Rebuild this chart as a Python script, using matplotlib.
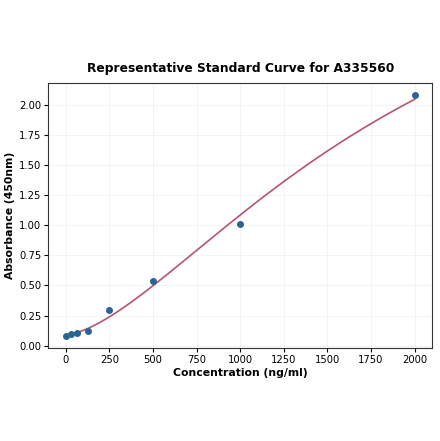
import matplotlib
matplotlib.use('Agg')
import matplotlib.pyplot as plt
import numpy as np

# standard curve points
conc = np.array([0, 31.25, 62.5, 125, 250, 500, 1000, 2000])
absorb = np.array([0.078, 0.097, 0.108, 0.119, 0.30, 0.539, 1.014, 2.081])

# 4PL fit parameters (bottom, slope, ec50, top), estimated from the drawn curve
fit_bottom = 0.09
fit_slope = 1.55
fit_ec50 = 2000.0
fit_top = 4.0


def four_pl(x):
    return fit_top + (fit_bottom - fit_top) / (1 + (x / fit_ec50) ** fit_slope)


x_fit = np.linspace(conc.min(), conc.max(), 400)
y_fit = four_pl(x_fit)

fig, ax = plt.subplots(figsize=(4.4, 4.41), dpi=100)
ax.plot(x_fit, y_fit, color='#b85470', lw=1.2, zorder=2)
ax.scatter(conc, absorb, s=16, color='#2a6496', zorder=3)

ax.set_title('Representative Standard Curve for A335560', fontsize=8.8, fontweight='bold', pad=8)
ax.set_xlabel('Concentration (ng/ml)', fontsize=7.8, fontweight='bold', labelpad=2)
ax.set_ylabel('Absorbance (450nm)', fontsize=7.8, fontweight='bold', labelpad=3)
ax.set_xticks(np.arange(0, 2001, 250))
ax.set_yticks(np.arange(0, 2.01, 0.25))
ax.tick_params(labelsize=7.2, length=3, pad=2)
ax.grid(True, color='#eeeeee', lw=0.5)
ax.set_axisbelow(True)
for s in ax.spines.values():
    s.set_color('#333333')

plt.subplots_adjust(left=0.11, right=0.982, top=0.812, bottom=0.21)
plt.savefig('out.png', dpi=100)
